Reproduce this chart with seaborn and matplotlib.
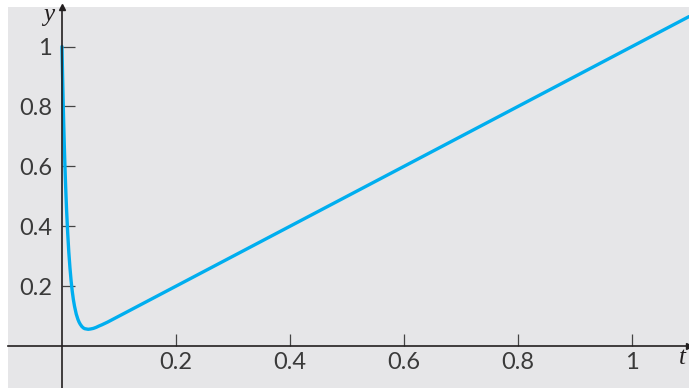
import matplotlib.pyplot as plt
import seaborn as sns
import pandas as pd

# Values (time t, response y).
t_vals = [0.0, 0.001, 0.002, 0.003, 0.004, 0.005, 0.006, 0.007, 0.008, 0.010,
          0.012, 0.014, 0.016, 0.018, 0.020, 0.022, 0.025, 0.028, 0.030, 0.032,
          0.035, 0.038, 0.040, 0.046, 0.050, 0.055, 0.060, 0.065, 0.070, 0.080,
          0.100, 0.150, 0.200, 0.400, 0.600, 0.800, 1.000, 1.100]
y_vals = [1.000, 0.906, 0.821, 0.744, 0.674, 0.612, 0.555, 0.504, 0.457, 0.378,
          0.313, 0.261, 0.218, 0.183, 0.155, 0.133, 0.107, 0.089, 0.080, 0.073,
          0.065, 0.060, 0.058, 0.056, 0.057, 0.059, 0.0625, 0.067, 0.071, 0.080,
          0.100, 0.150, 0.200, 0.400, 0.600, 0.800, 1.000, 1.100]
x_ticks = [0.2, 0.4, 0.6, 0.8, 1.0]
x_labels = ["0.2", "0.4", "0.6", "0.8", "1"]
y_ticks = [0.2, 0.4, 0.6, 0.8, 1.0]
y_labels = ["0.2", "0.4", "0.6", "0.8", "1"]

df = pd.DataFrame({"t": t_vals, "y": y_vals})

sns.set_style("white", {"axes.facecolor": "#e6e6e8"})
plt.rcParams["font.family"] = ["Lato", "DejaVu Sans"]

fig = plt.figure(figsize=(6.89, 3.88), dpi=100)
ax = fig.add_axes([8 / 689, 0, 681 / 689, 381 / 388])

sns.lineplot(data=df, x="t", y="y", color="#00aeef", linewidth=2.4, ax=ax)

ax.set_xlim(-0.0947, 1.1)
ax.set_ylim(-0.140, 1.132)

# Axes through the origin.
for side in ["top", "right"]:
    ax.spines[side].set_visible(False)
for side in ["left", "bottom"]:
    ax.spines[side].set_position(("data", 0))
    ax.spines[side].set_color("#231f20")
    ax.spines[side].set_linewidth(1.2)

ax.plot(1, 0, ">", color="#231f20", markersize=5, transform=ax.get_yaxis_transform(), clip_on=False)
ax.plot(0, 1, "^", color="#231f20", markersize=5, transform=ax.get_xaxis_transform(), clip_on=False)

ax.set_xticks(x_ticks, x_labels)
ax.set_yticks(y_ticks, y_labels)
ax.tick_params(bottom=True, left=True, direction="in", length=9, width=0.9,
               color="#444444", labelsize=17, labelcolor="#3a3a3a")
ax.tick_params(axis="x", pad=4)
ax.tick_params(axis="y", pad=7)

ax.set_xlabel("")
ax.set_ylabel("")
ax.text(1.095, -0.04, "t", ha="right", va="center", fontsize=18,
        family="Liberation Serif", style="italic", color="#231f20")
ax.text(-0.014, 1.105, "y", ha="right", va="center", fontsize=18,
        family="Liberation Serif", style="italic", color="#231f20")

fig.savefig("out.png", dpi=100)
